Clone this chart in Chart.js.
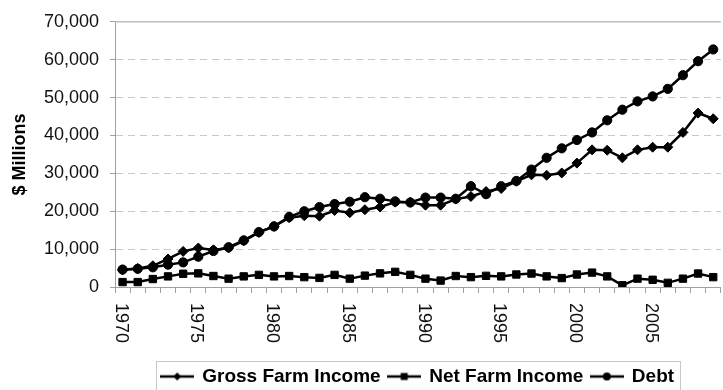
<!DOCTYPE html>
<html>
<head>
<meta charset="utf-8">
<script src="https://cdn.jsdelivr.net/npm/chart.js@4"></script>
<style>
  html, body { margin: 0; padding: 0; background: #fff; overflow: hidden; }
  #wrap { width: 727px; height: 400px; position: relative; }
</style>
</head>
<body>
<div id="wrap"><canvas id="farm-chart"></canvas></div>
<script>
// years on the category axis
const years = ['1970','1971','1972','1973','1974','1975','1976','1977','1978','1979',
  '1980','1981','1982','1983','1984','1985','1986','1987','1988','1989',
  '1990','1991','1992','1993','1994','1995','1996','1997','1998','1999',
  '2000','2001','2002','2003','2004','2005','2006','2007','2008','2009'];

// only these years get a label under the axis
const yearTicks = ['1970','1975','1980','1985','1990','1995','2000','2005'];

// $ millions
const grossIncome = [4500, 4900, 5600, 7400, 9400, 10300, 9800, 10300, 12200, 14400,
  16000, 18300, 18800, 18700, 20200, 19600, 20400, 21100, 22400, 22400,
  21600, 21600, 23200, 23900, 25200, 26000, 27900, 29600, 29500, 30100,
  32700, 36200, 36100, 34100, 36200, 36900, 36900, 40800, 45900, 44400];

const netIncome = [1300, 1300, 2100, 2800, 3500, 3600, 2900, 2200, 2800, 3200,
  2800, 2900, 2600, 2400, 3200, 2200, 3000, 3600, 4000, 3200,
  2200, 1700, 2900, 2600, 2950, 2800, 3300, 3550, 2800, 2350,
  3300, 3800, 2800, 450, 2200, 1900, 1100, 2200, 3550, 2600];

const debt = [4600, 4800, 5200, 5900, 6500, 8000, 9500, 10500, 12300, 14500,
  16000, 18500, 20000, 21100, 21900, 22500, 23700, 23300, 22600, 22300,
  23600, 23600, 23300, 26600, 24500, 26600, 28000, 31000, 34100, 36600,
  38800, 40800, 44000, 46800, 49000, 50300, 52300, 55900, 59600, 62700];

const yTicks = [0, 10000, 20000, 30000, 40000, 50000, 60000, 70000];

const FONT = '"Liberation Sans", Arial, sans-serif';

// little line+marker pictures for the legend
function legendIcon(shape) {
    const c = document.createElement('canvas');
    c.width = 34; c.height = 14;
    const g = c.getContext('2d');
    g.strokeStyle = '#000'; g.fillStyle = '#000'; g.lineWidth = 2.5;
    g.beginPath(); g.moveTo(0, 7); g.lineTo(34, 7); g.stroke();
    g.beginPath();
    if (shape === 'diamond') {
        g.moveTo(17, 3); g.lineTo(21, 7); g.lineTo(17, 11); g.lineTo(13, 7); g.closePath();
    } else if (shape === 'square') {
        g.rect(13.5, 3.5, 7, 7);
    } else {
        g.arc(17, 7, 4, 0, Math.PI * 2);
    }
    g.fill();
    return c;
}
const icons = [legendIcon('diamond'), legendIcon('square'), legendIcon('circle')];

const topBorder = {
    id: 'topBorder',
    beforeDatasetsDraw(chart) {
        const { ctx, chartArea } = chart;
        ctx.save();
        ctx.strokeStyle = '#bdbdbd';
        ctx.lineWidth = 1.5;
        ctx.beginPath();
        ctx.moveTo(chartArea.left, chartArea.top);
        ctx.lineTo(chartArea.right, chartArea.top);
        ctx.stroke();
        ctx.restore();
    }
};

// year labels run top to bottom (clockwise), which chart.js can't rotate to
const yearLabels = {
    id: 'yearLabels',
    afterDraw(chart) {
        const ctx = chart.ctx;
        const xs = chart.scales.x;
        ctx.save();
        ctx.font = '18px ' + FONT;
        ctx.fillStyle = '#111';
        ctx.textAlign = 'left';
        ctx.textBaseline = 'middle';
        years.forEach((yr, i) => {
            if (!yearTicks.includes(yr)) return;
            ctx.save();
            ctx.translate(xs.getPixelForValue(i) - 2, xs.top + 16);
            ctx.rotate(Math.PI / 2);
            ctx.fillText(yr, 0, 0);
            ctx.restore();
        });
        ctx.restore();
    }
};

const legendBox = {
    id: 'legendBox',
    afterDraw(chart) {
        const lg = chart.legend;
        const hb = lg.legendHitBoxes;
        if (!hb || !hb.length) return;
        const last = hb[hb.length - 1];
        const l = hb[0].left - 6;
        const r = last.left + last.width + 6;
        const ctx = chart.ctx;
        ctx.save();
        ctx.strokeStyle = '#c8c8c8';
        ctx.lineWidth = 1;
        ctx.strokeRect(Math.round(l) + 0.5, Math.round(lg.top) + 2.5, Math.round(r - l), 80);
        ctx.restore();
    }
};

const ctx = document.getElementById('farm-chart').getContext('2d');

new Chart(ctx, {
    type: 'line',
    data: {
        labels: years,
        datasets: [
            {
                label: 'Gross Farm Income',
                data: grossIncome,
                borderColor: '#000',
                backgroundColor: '#000',
                borderWidth: 2.5,
                pointStyle: 'rectRot',
                pointRadius: 5,
                pointBorderWidth: 1,
                tension: 0,
            },
            {
                label: 'Net Farm Income',
                data: netIncome,
                borderColor: '#000',
                backgroundColor: '#000',
                borderWidth: 2.5,
                pointStyle: 'rect',
                pointRadius: 5.2,
                pointBorderWidth: 1,
                tension: 0,
            },
            {
                label: 'Debt',
                data: debt,
                borderColor: '#000',
                backgroundColor: '#000',
                borderWidth: 2.5,
                pointStyle: 'circle',
                pointRadius: 4.6,
                pointBorderWidth: 1,
                tension: 0,
            },
        ],
    },
    options: {
        responsive: true,
        maintainAspectRatio: false,
        animation: false,
        layout: { padding: { top: 18, left: 0, right: 0, bottom: 4 } },
        scales: {
            x: {
                type: 'category',
                offset: true,
                afterFit: (s) => { s.height = 72; },
                grid: {
                    display: true,
                    offset: true,
                    drawOnChartArea: false,
                    drawTicks: true,
                    tickLength: 6,
                    tickColor: '#a0a0a0',
                },
                border: { display: true, color: '#a0a0a0', width: 1 },
                ticks: { display: false },
            },
            y: {
                min: 0,
                max: 70000,
                afterFit: (s) => { s.width = 115; },
                afterBuildTicks: (s) => { s.ticks = yTicks.map(v => ({ value: v })); },
                title: {
                    display: true,
                    text: '$ Millions',
                    color: '#000',
                    font: { family: FONT, size: 18, weight: 'bold' },
                    padding: { top: 9, bottom: 0 },
                },
                ticks: {
                    color: '#111',
                    font: { family: FONT, size: 18 },
                    padding: 11,
                    callback: (value) => value.toLocaleString('en-US'),
                },
                grid: {
                    color: (c) => (c.tick && (c.tick.value === 0 || c.tick.value === 70000)) ? 'rgba(0,0,0,0)' : '#c8c8c8',
                    lineWidth: 1,
                    tickLength: 5,
                    tickColor: '#a0a0a0',
                },
                border: { display: true, color: '#a0a0a0', width: 1, dash: [7, 5] },
            },
        },
        plugins: {
            tooltip: { enabled: false },
            legend: {
                position: 'bottom',
                fullSize: false,
                labels: {
                    usePointStyle: true,
                    pointStyleWidth: 31,
                    padding: 8,
                    color: '#000',
                    font: { family: FONT, size: 19, weight: 'bold' },
                    generateLabels: (chart) => chart.data.datasets.map((ds, i) => ({
                        text: ds.label,
                        pointStyle: icons[i],
                        datasetIndex: i,
                        fillStyle: 'rgba(0,0,0,0)',
                        strokeStyle: 'rgba(0,0,0,0)',
                        lineWidth: 0,
                        hidden: false,
                        fontColor: '#000',
                    })),
                },
            },
        },
    },
    plugins: [topBorder, yearLabels, legendBox],
});
</script>
</body>
</html>
